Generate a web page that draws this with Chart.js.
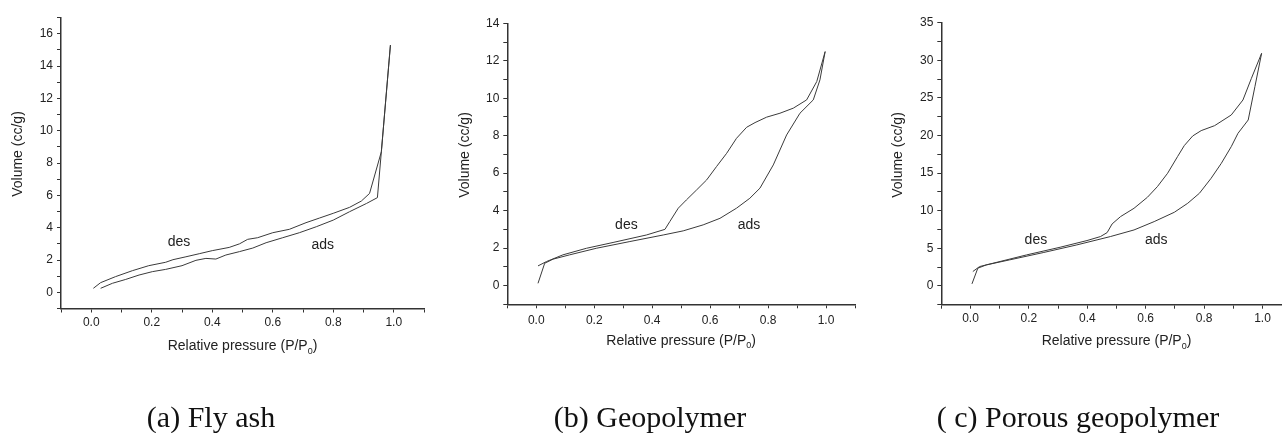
<!DOCTYPE html>
<html>
<head>
<meta charset="utf-8">
<title>Nitrogen isotherms</title>
<script src="https://cdn.jsdelivr.net/npm/chart.js@4.4.1/dist/chart.umd.min.js"></script>
<style>
  html, body { margin: 0; padding: 0; background: #fff; overflow: hidden; }
  body { width: 1282px; height: 433px; position: relative; }
  canvas { position: absolute; top: 0; }
</style>
</head>
<body>
<canvas id="chartA" width="430" height="433" style="left:0"></canvas>
<canvas id="chartB" width="430" height="433" style="left:430px"></canvas>
<canvas id="chartC" width="440" height="433" style="left:860px"></canvas>
<script>
// (a) fly ash - relative pressure / volume
const faAdsP = [0.031, 0.07, 0.114, 0.158, 0.202, 0.246, 0.30, 0.346, 0.379, 0.412, 0.445, 0.49, 0.534, 0.578, 0.633, 0.688, 0.744, 0.80, 0.854, 0.91, 0.946, 0.959, 0.989];
const faAdsV = [0.25, 0.56, 0.8, 1.07, 1.28, 1.42, 1.65, 1.98, 2.1, 2.06, 2.31, 2.52, 2.74, 3.07, 3.38, 3.69, 4.06, 4.47, 4.99, 5.5, 5.86, 8.7, 15.3];
const faDesP = [0.007, 0.031, 0.08, 0.136, 0.19, 0.246, 0.27, 0.313, 0.357, 0.40, 0.456, 0.49, 0.517, 0.55, 0.60, 0.655, 0.71, 0.755, 0.80, 0.854, 0.893, 0.92, 0.959, 0.989];
const faDesV = [0.25, 0.6, 0.97, 1.34, 1.65, 1.86, 2.02, 2.2, 2.39, 2.58, 2.78, 3.0, 3.28, 3.38, 3.69, 3.9, 4.31, 4.6, 4.89, 5.26, 5.65, 6.12, 8.7, 15.3];

// (b) geopolymer
const gpAdsP = [0.006, 0.029, 0.058, 0.115, 0.207, 0.323, 0.438, 0.507, 0.576, 0.634, 0.691, 0.737, 0.772, 0.818, 0.864, 0.91, 0.956, 0.979, 0.997];
const gpAdsV = [0.12, 1.19, 1.41, 1.64, 1.99, 2.35, 2.7, 2.92, 3.24, 3.59, 4.13, 4.66, 5.2, 6.44, 8.04, 9.2, 9.91, 10.98, 12.49];
const gpDesP = [0.006, 0.035, 0.092, 0.173, 0.265, 0.38, 0.444, 0.461, 0.49, 0.518, 0.553, 0.588, 0.622, 0.657, 0.691, 0.726, 0.755, 0.795, 0.841, 0.887, 0.933, 0.968, 0.997];
const gpDesV = [1.05, 1.28, 1.64, 1.99, 2.3, 2.7, 3.0, 3.42, 4.13, 4.57, 5.1, 5.64, 6.35, 7.06, 7.86, 8.45, 8.7, 8.99, 9.2, 9.47, 9.91, 10.89, 12.49];

// (c) porous geopolymer
const pgAdsP = [0.005, 0.025, 0.054, 0.134, 0.249, 0.364, 0.479, 0.56, 0.629, 0.698, 0.744, 0.784, 0.824, 0.859, 0.893, 0.916, 0.951, 0.974, 0.997];
const pgAdsV = [0.27, 2.35, 2.79, 3.46, 4.43, 5.45, 6.56, 7.44, 8.55, 9.79, 10.99, 12.32, 14.31, 16.3, 18.52, 20.29, 22.06, 26.5, 30.93];
const pgDesP = [0.008, 0.031, 0.077, 0.192, 0.307, 0.399, 0.445, 0.468, 0.485, 0.514, 0.56, 0.606, 0.64, 0.675, 0.709, 0.732, 0.761, 0.79, 0.836, 0.893, 0.933, 0.962, 0.997];
const pgDesV = [1.91, 2.57, 3.01, 4.12, 5.14, 6.03, 6.56, 7.09, 8.24, 9.22, 10.32, 11.79, 13.2, 14.98, 17.19, 18.65, 19.94, 20.65, 21.31, 22.73, 24.72, 27.6, 30.93];

const captions = ['(a) Fly ash', '(b) Geopolymer', '( c) Porous geopolymer'];
const xTitle = 'Relative pressure (P/P';
const yTitle = 'Volume (cc/g)';

const SANS = '"Liberation Sans", Arial, sans-serif';
const INK = '#222';
const LINE = '#3a3a3a';

function toPoints(xs, ys) {
    return xs.map((x, i) => ({ x: x, y: ys[i] }));
}

// axis titles, des/ads notes and the caption under each panel
const panelText = {
    id: 'panelText',
    afterDraw(chart, args, o) {
        const { ctx, chartArea, scales } = chart;
        ctx.save();
        ctx.fillStyle = INK;
        ctx.textBaseline = 'middle';
        ctx.textAlign = 'center';
        ctx.font = '14px ' + SANS;

        o.notes.forEach(n => {
            ctx.fillText(n.text, scales.x.getPixelForValue(n.x), scales.y.getPixelForValue(n.y));
        });

        // x title with subscript 0
        const main = ctx.measureText(xTitle).width;
        ctx.font = '9px ' + SANS;
        const sub = ctx.measureText('0').width;
        ctx.font = '14px ' + SANS;
        const close = ctx.measureText(')').width;
        let x0 = (chartArea.left + chartArea.right) / 2 - (main + sub + close) / 2;
        ctx.textAlign = 'left';
        ctx.fillText(xTitle, x0, o.xTitleY);
        ctx.font = '9px ' + SANS;
        ctx.fillText('0', x0 + main, o.xTitleY + 5);
        ctx.font = '14px ' + SANS;
        ctx.fillText(')', x0 + main + sub, o.xTitleY);

        // y title
        ctx.save();
        ctx.translate(o.yTitleX, o.yTitleY);
        ctx.rotate(-Math.PI / 2);
        ctx.textAlign = 'center';
        ctx.fillText(yTitle, 0, 0);
        ctx.restore();

        // caption
        ctx.fillStyle = '#111';
        ctx.textAlign = 'center';
        ctx.textBaseline = 'alphabetic';
        ctx.font = '30px "Liberation Serif", "Times New Roman", serif';
        ctx.fillText(o.caption, o.captionX, 427);
        ctx.restore();
    }
};

function makePanel(id, p) {
    const c = document.getElementById(id);
    return new Chart(c.getContext('2d'), {
        type: 'scatter',
        data: {
            datasets: [
                { label: 'ads', data: toPoints(p.adsX, p.adsY) },
                { label: 'des', data: toPoints(p.desX, p.desY) }
            ]
        },
        options: {
            responsive: false,
            animation: false,
            showLine: true,
            layout: { padding: { top: p.padTop, right: p.padRight, left: 0, bottom: 0 } },
            elements: {
                point: { radius: 0, hoverRadius: 0 },
                line: { borderColor: LINE, borderWidth: 1, tension: 0, fill: false }
            },
            plugins: {
                legend: { display: false },
                tooltip: { enabled: false },
                panelText: {
                    notes: p.notes,
                    xTitleY: p.xTitleY,
                    yTitleX: p.yTitleX,
                    yTitleY: p.yTitleY,
                    caption: p.caption,
                    captionX: p.captionX
                }
            },
            scales: {
                x: {
                    type: 'linear',
                    min: -0.1,
                    max: 1.1,
                    afterFit: s => { s.height = c.height - p.axisBottom; },
                    border: { display: true, color: '#333', width: 1.5 },
                    grid: { drawOnChartArea: false, drawTicks: true, tickLength: 4, tickColor: '#333' },
                    ticks: {
                        stepSize: 0.1,
                        autoSkip: false,
                        maxRotation: 0,
                        minRotation: 0,
                        padding: p.xTickPad,
                        color: INK,
                        font: { family: SANS, size: 12 },
                        callback: v => (Math.round(v * 10) % 2 === 0 ? v.toFixed(1) : '')
                    }
                },
                y: {
                    type: 'linear',
                    min: p.yMin,
                    max: p.yMax,
                    afterFit: s => { s.width = p.axisLeft; },
                    border: { display: true, color: '#333', width: 1.5 },
                    grid: { drawOnChartArea: false, drawTicks: true, tickLength: 4, tickColor: '#333' },
                    ticks: {
                        stepSize: p.yStep,
                        autoSkip: false,
                        padding: 4,
                        color: INK,
                        font: { family: SANS, size: 12 },
                        callback: v => (Math.abs(v / p.yLabelStep - Math.round(v / p.yLabelStep)) < 1e-6 && v >= 0 ? String(v) : '')
                    }
                }
            }
        },
        plugins: [panelText]
    });
}

makePanel('chartA', {
    adsX: faAdsP, adsY: faAdsV, desX: faDesP, desY: faDesV,
    yMin: -1, yMax: 17, yStep: 1, yLabelStep: 2,
    axisLeft: 61, padTop: 17.6, padRight: 6, axisBottom: 308.5, xTickPad: 3,
    notes: [{ text: 'des', x: 0.29, y: 3.11 }, { text: 'ads', x: 0.765, y: 2.93 }],
    xTitleY: 346.5, yTitleX: 18, yTitleY: 154,
    caption: captions[0], captionX: 211
});

makePanel('chartB', {
    adsX: gpAdsP, adsY: gpAdsV, desX: gpDesP, desY: gpDesV,
    yMin: -1, yMax: 14, yStep: 1, yLabelStep: 2,
    axisLeft: 77.3, padTop: 23.3, padRight: 4, axisBottom: 304.3, xTickPad: 5,
    notes: [{ text: 'des', x: 0.311, y: 3.24 }, { text: 'ads', x: 0.734, y: 3.24 }],
    xTitleY: 341, yTitleX: 35, yTitleY: 155,
    caption: captions[1], captionX: 220
});

makePanel('chartC', {
    adsX: pgAdsP, adsY: pgAdsV, desX: pgDesP, desY: pgDesV,
    yMin: -2.5, yMax: 35, yStep: 2.5, yLabelStep: 5,
    axisLeft: 81.3, padTop: 22.7, padRight: 8.3, axisBottom: 304.7, xTickPad: 3,
    notes: [{ text: 'des', x: 0.224, y: 6.12 }, { text: 'ads', x: 0.636, y: 6.12 }],
    xTitleY: 341.5, yTitleX: 38, yTitleY: 155,
    caption: captions[2], captionX: 218
});
</script>
</body>
</html>
